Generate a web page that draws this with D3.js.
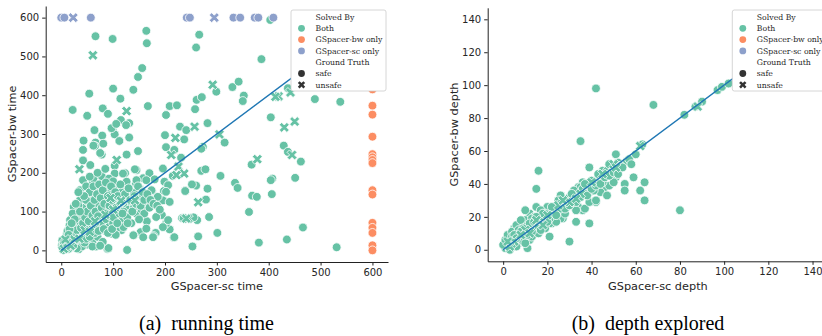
<!DOCTYPE html>
<html>
<head>
<meta charset="utf-8">
<script src="https://cdn.jsdelivr.net/npm/d3@7"></script>
<style>
  body { margin: 0; background: #fff; }
  svg { display: block; }
</style>
</head>
<body>
<svg id="fig" width="822" height="336"></svg>
<script>
// ---- data: [GSpacer-sc, GSpacer-bw] ----
const timeBothSafe = [
  [66,552],[99,545],[164,566],[165,534],[266,556],[260,523],[156,470],[148,447],[100,417],[139,414],
  [54,404],[114,391],[167,372],[22,362],[50,347],[80,366],[90,352],[115,336],[131,328],[99,312],
  [103,299],[64,310],[79,296],[43,283],[66,278],[42,259],[65,269],[112,282],[131,291],[78,247],
  [42,232],[56,220],[126,247],[148,256],[103,218],[103,198],[42,181],[61,178],[78,191],[123,199],
  [126,177],[144,173],[158,186],[145,207],[170,199],[180,183],[175,153],[162,124],[165,75],[153,47],
  [158,34],[140,39],[127,1],[89,4],[67,10],[34,3],[202,349],[209,372],[223,374],[200,297],
  [202,266],[218,259],[229,319],[241,310],[237,286],[258,364],[261,388],[271,395],[282,328],[299,409],
  [330,421],[342,435],[352,399],[350,385],[273,267],[270,262],[315,278],[270,205],[278,209],[307,192],
  [335,174],[340,161],[368,141],[377,138],[367,221],[362,99],[381,20],[301,45],[264,36],[253,10],
  [262,78],[285,86],[282,159],[279,131],[260,167],[239,154],[233,83],[217,33],[209,54],[202,69],
  [194,91],[182,45],[178,37],[196,129],[198,153],[199,177],[196,211],[215,192],[231,239],[407,185],
  [404,343],[406,145],[386,493],[437,418],[489,390],[538,383],[429,270],[437,254],[462,229],[404,181],
  [451,187],[466,59],[435,28],[531,8],[403,594],
  [97,315],[106,326],[125,323],[62,270],[81,275],[75,251],[62,185],[119,198],[142,209],[145,181],
  [164,181],[123,155],[151,160],[174,155],[206,168],[202,151],[186,138],[209,125],[239,153],[252,170],
  [236,83],[255,85],[183,86],[206,78],[218,34],[196,60],[164,56],[177,34],[91,6],[139,39],
  [116,52],[97,43],[78,65],[56,60],[43,78],[30,86],[49,103],[68,121],[88,103],[107,129],
  [132,125],[145,95],[113,86],[94,78],[75,91],[36,129],[56,138],[68,155],[88,142],[36,155],
  [24,112],[17,78],[27,60],[11,43],[2,26],
  [3,2],[5,6],[7,3],[9,10],[11,8],[13,15],[15,11],[17,20],[19,14],[21,24],
  [24,18],[26,30],[29,22],[31,35],[34,28],[37,42],[40,33],[44,48],[47,38],[50,55],
  [53,45],[57,62],[60,50],[63,70],[67,58],[70,78],[73,66],[77,88],[80,72],[84,96],
  [87,80],[91,104],[95,88],[98,112],[102,95],[106,118],[110,100],[114,126],[118,108],[122,132],
  [127,114],[131,140],[136,120],[140,148],[146,130],[152,140],[20,40],[25,55],[32,70],[38,90],
  [45,110],[52,125],[58,100],[66,140],[72,115],[82,130],[90,160],[96,150],[108,165],[115,150],
  [85,50],[92,60],[100,70],[110,60],[118,80],[125,90],[135,70],[60,25],[70,35],[80,22],
  [50,15],[40,10],[30,5],[20,8],[10,30],[6,18],[14,4],[1,12],[4,1],[2,8],
  [8,22],[12,50],[16,65],[22,95],[33,115],[48,165],[55,190],[70,200],[85,210],[92,185],
  [100,178],[130,105],[140,110],[155,105],[160,95],[170,110],[150,80],[120,60],[105,40],[60,10],
  [45,20],[75,12],[8,14],[18,30],[23,12],
  [5,20],[10,5],[12,25],[15,35],[18,45],[22,50],[25,40],[28,65],[30,52],[35,75],
  [38,58],[40,95],[42,70],[46,85],[48,130],[50,100],[53,75],[55,150],[57,115],[60,90],
  [62,165],[64,130],[66,100],[69,145],[71,88],[73,170],[76,135],[78,110],[80,155],[83,120],
  [86,175],[88,95],[90,140],[93,115],[96,165],[98,130],[101,85],[104,150],[106,110],[109,140],
  [112,95],[114,170],[117,125],[120,100],[123,145],[127,85],[130,160],[133,130],[137,100],[141,140],
  [144,120],[148,165],[153,115],[157,150],[160,130],[166,145],[172,130],[178,120],[185,115],[190,105],
  [48,30],[55,35],[65,45],[72,50],[82,55],[90,45],[98,55],[108,70],[118,95],[128,70],
  [16,55],[26,80],[36,100],[44,140],[33,150],[28,120],[20,70],[14,40]
];
const timeBothUnsafe = [
  [61,503],[126,359],[35,209],[107,233],[220,290],[257,319],[292,427],[305,299],[378,235],[264,124],
  [245,82],[226,216],[237,198],[212,246],[419,397],[413,396],[442,407],[430,317],[450,332],[445,246],
  [241,82],[222,194],[142,129],[5,4],[12,18],[18,12],[25,28],[35,30],[45,52],[55,48],
  [65,75],[85,92],[100,105],[115,128],[95,135],[8,28]
];
const timeBwOnlySafe = [
  [600,415],[600,373],[600,350],[600,293],[600,248],[600,240],[600,233],[600,225],[600,155],[600,144],
  [600,71],[600,58],[600,45],[600,13],[600,0]
];
const timeScOnlySafe = [
  [0,600],[6,600],[57,600],[242,600],[248,600],[332,600],[345,600],[373,600],[380,600],[409,600]
];
const timeScOnlyUnsafe = [[23,600],[295,600]];

const depthBothSafe = [
  [42,98],[68,88],[35,66],[16,48],[15,37],[51,58],[39,50],[45,48],[56,54],[59,44],
  [64,41],[55,40],[55,36],[62,36],[64,30],[80,24],[51,44],[46,38],[39,36],[36,41],
  [34,38],[42,29],[36,24],[34,26],[33,17],[39,16],[30,5],[26,33],[27,19],[21,8],
  [22,16],[22,20],[12,22],[10,24],[15,26],[19,19],[11,1],[5,13],[3,3],[82,82],
  [87,87],[90,90],[97,97],[99,99],[102,101],[63,64],[48,39],[50,41],[26,19],[27,24],
  [33,24],[37,25],[39,29],[42,30],[10,18],[8,14],[6,10],[2,4],[21,16],[18,18],
  [15,15],[14,12],[9,8],[12,6],[29,28],[30,32],[35,38],[38,39],[41,40],[39,35],
  [44,35],[47,33],[1,1],[2,2],[3,5],[4,4],[5,6],[6,5],[7,8],[8,7],
  [9,10],[10,9],[11,12],[12,11],[13,14],[14,13],[16,17],[17,16],[18,20],[20,19],
  [22,23],[23,22],[24,25],[25,24],[28,29],[31,30],[32,33],[34,33],[36,37],[40,42],
  [43,44],[44,42],[47,48],[49,47],[52,53],[53,51],[0,3],[1,6],[2,9],[4,11],
  [6,15],[8,18],[3,0],[5,2],[7,4],[9,5],[13,8],[16,10],[19,13],[24,17],
  [28,22],[10,4],[6,2],[4,8],[14,20],[20,26],[17,24],[13,19],[11,15],[7,12],
  [25,30],[32,36],[37,34],[41,36],[43,46],[45,41],[57,55],[60,58],[58,52],[48,52],
  [17,20],[19,22],[21,19],[23,26],[26,25],[27,28],[29,26],[31,34],[33,29],[35,32],
  [37,40],[38,33],[40,37],[42,39],[44,40],[46,44],[48,45],[50,47],[52,46],[54,50],
  [12,16],[14,17],[16,14],[18,22],[20,17],[22,26],[24,21],[26,28],[28,25],[30,27],
  [7,9],[9,13],[11,9],[13,11],[15,20],[17,12],[4,3],[5,9],[6,7],[8,11]
];
const depthBothUnsafe = [
  [62,63],[50,52],[51,50],[88,87],[10,12],[15,18],[5,5],[8,9],[20,21],[25,27],
  [30,29],[35,34],[40,41],[45,46],[18,15],[12,10],[3,2],[2,5],[27,30],[33,31]
];

const timeTicks = [0, 100, 200, 300, 400, 500, 600];
const depthTicks = [0, 20, 40, 60, 80, 100, 120, 140];

const solvedBy = ['Both', 'GSpacer-bw only', 'GSpacer-sc only'];
const groundTruth = ['safe', 'unsafe'];
const palette = { 'Both': '#66c2a5', 'GSpacer-bw only': '#fc8d62', 'GSpacer-sc only': '#8da0cb' };

// filled "X" marker like matplotlib's
const thickX = {
  draw(ctx, size) {
    const r = Math.sqrt(size) / 2, w = r * 0.32, c = Math.SQRT1_2;
    const pts = [[w,r],[w,w],[r,w],[r,-w],[w,-w],[w,-r],[-w,-r],[-w,-w],[-r,-w],[-r,w],[-w,w],[-w,r]];
    pts.forEach(([a, b], i) => {
      const px = (a - b) * c, py = (a + b) * c;
      if (i) ctx.lineTo(px, py); else ctx.moveTo(px, py);
    });
    ctx.closePath();
  }
};

const svg = d3.select('#fig');
svg.append('rect').attr('width', 822).attr('height', 336).attr('fill', '#fff');

const legendFont = '"DejaVu Serif", "Liberation Serif", serif';
// size the legend text so that "GSpacer-bw only" spans ~67px like the reference
const probe = svg.append('text').style('font-family', legendFont).style('font-size', '10px').text('GSpacer-bw only');
const legendSize = Math.min(9.5, 10 * 67 / (probe.node().getComputedTextLength() || 67));
probe.remove();

function drawPanel(cfg) {
  const g = svg.append('g');
  const x = d3.scaleLinear().domain(cfg.domain).range([cfg.left, cfg.right]);
  const y = d3.scaleLinear().domain(cfg.domain).range([cfg.bottom, cfg.top]);

  const layers = [
    { data: cfg.bothSafe, color: palette['Both'], shape: 'o' },
    { data: cfg.bothUnsafe, color: palette['Both'], shape: 'x' },
    { data: cfg.bwSafe || [], color: palette['GSpacer-bw only'], shape: 'o' },
    { data: cfg.scSafe || [], color: palette['GSpacer-sc only'], shape: 'o' },
    { data: cfg.scUnsafe || [], color: palette['GSpacer-sc only'], shape: 'x' }
  ];

  layers.forEach(l => {
    if (l.shape === 'o') {
      g.append('g').selectAll('circle').data(l.data).enter().append('circle')
        .attr('cx', d => x(d[0])).attr('cy', d => y(d[1])).attr('r', 4.4)
        .attr('fill', l.color).attr('stroke', '#fff').attr('stroke-width', 0.8);
    } else {
      g.append('g').selectAll('path').data(l.data).enter().append('path')
        .attr('transform', d => `translate(${x(d[0])},${y(d[1])})`)
        .attr('d', d3.symbol().type(thickX).size(115))
        .attr('fill', l.color).attr('stroke', '#fff').attr('stroke-width', 0.8);
    }
  });

  // y = x reference line
  g.append('line')
    .attr('x1', x(0)).attr('y1', y(0))
    .attr('x2', x(cfg.lineEnd)).attr('y2', y(cfg.lineEnd))
    .attr('stroke', '#1f77b4').attr('stroke-width', 1.4);

  const xAxis = g.append('g')
    .attr('transform', `translate(0,${cfg.bottom})`)
    .call(d3.axisBottom(x).tickValues(cfg.ticks).tickSize(3.5).tickSizeOuter(0).tickPadding(3.5));
  const yAxis = g.append('g')
    .attr('transform', `translate(${cfg.left},0)`)
    .call(d3.axisLeft(y).tickValues(cfg.ticks).tickSize(3.5).tickSizeOuter(0).tickPadding(3));
  [xAxis, yAxis].forEach(a => {
    a.selectAll('path, line').attr('stroke', '#222').attr('stroke-width', 1);
    a.selectAll('text').attr('fill', '#262626')
      .style('font-family', '"DejaVu Sans", sans-serif').style('font-size', '10px');
  });

  g.append('text')
    .attr('x', (cfg.left + cfg.right) / 2).attr('y', 290)
    .attr('text-anchor', 'middle').attr('fill', '#262626')
    .style('font-family', '"DejaVu Sans", sans-serif').style('font-size', '11.3px')
    .text(cfg.xLabel);
  g.append('text')
    .attr('transform', `translate(${cfg.left - 29.5},${(cfg.top + cfg.bottom) / 2}) rotate(-90)`)
    .attr('text-anchor', 'middle').attr('fill', '#262626')
    .style('font-family', '"DejaVu Sans", sans-serif').style('font-size', '11.3px')
    .text(cfg.yLabel);

  g.append('text')
    .attr('x', cfg.captionX).attr('y', 330)
    .attr('text-anchor', 'middle').attr('fill', '#000')
    .style('white-space', 'pre')
    .style('font-family', '"Liberation Serif", "Times New Roman", serif').style('font-size', '20px')
    .text(cfg.caption);

  // legend
  const lg = g.append('g').attr('transform', `translate(${cfg.legendX},10)`);
  lg.append('rect').attr('width', 95).attr('height', 81).attr('rx', 2)
    .attr('fill', '#fff').attr('stroke', '#cccccc').attr('stroke-width', 0.8);
  const rows = [
    { label: 'Solved By' },
    ...solvedBy.map(s => ({ label: s, color: palette[s], shape: 'o' })),
    { label: 'Ground Truth' },
    { label: groundTruth[0], color: '#333', shape: 'o' },
    { label: groundTruth[1], color: '#333', shape: 'x' }
  ];
  rows.forEach((r, i) => {
    const cy = 7 + i * 11.3;
    if (r.shape === 'o') {
      lg.append('circle').attr('cx', 10.5).attr('cy', cy).attr('r', 3.4)
        .attr('fill', r.color);
    } else if (r.shape === 'x') {
      lg.append('path').attr('transform', `translate(10.5,${cy})`)
        .attr('d', d3.symbol().type(thickX).size(62)).attr('fill', r.color);
    }
    lg.append('text').attr('x', 24.5).attr('y', cy + 2.8)
      .attr('fill', '#262626')
      .style('font-family', legendFont).style('font-size', legendSize + 'px')
      .text(r.label);
  });
}

drawPanel({
  domain: [-30, 630], left: 45.7, right: 388, top: 6, bottom: 262,
  ticks: timeTicks, lineEnd: 600,
  bothSafe: timeBothSafe, bothUnsafe: timeBothUnsafe,
  bwSafe: timeBwOnlySafe, scSafe: timeScOnlySafe, scUnsafe: timeScOnlyUnsafe,
  xLabel: 'GSpacer-sc time', yLabel: 'GSpacer-bw time',
  caption: '(a)  running time', captionX: 206.5, legendX: 291
});

drawPanel({
  domain: [-7, 147], left: 487.7, right: 828, top: 7.8, bottom: 261.3,
  ticks: depthTicks, lineEnd: 140,
  bothSafe: depthBothSafe, bothUnsafe: depthBothUnsafe,
  xLabel: 'GSpacer-sc depth', yLabel: 'GSpacer-bw depth',
  caption: '(b)  depth explored', captionX: 648, legendX: 732.3
});
</script>
</body>
</html>
